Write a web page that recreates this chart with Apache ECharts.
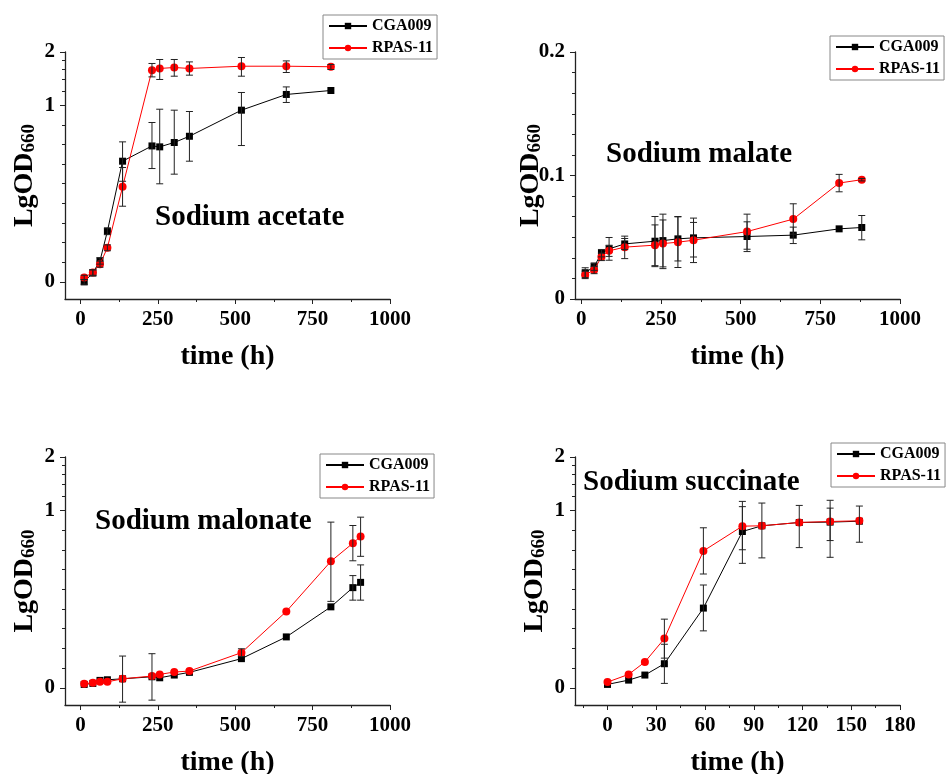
<!DOCTYPE html>
<html>
<head>
<meta charset="UTF-8">
<title>LgOD660 growth curves</title>
<script src="https://cdn.jsdelivr.net/npm/echarts@6/dist/echarts.min.js"></script>
<style>
  body { margin: 0; background: #fff; }
  #main { width: 947px; height: 774px; }
</style>
</head>
<body>
<div id="main"></div>
<script>
// ---- data ----
var acetateTime = [12, 40, 63, 87, 136, 231, 256, 303, 352, 520, 665, 809];
var acetateCGA = [0.100, 0.1125, 0.1315, 0.1936, 0.482, 0.588, 0.581, 0.615, 0.667, 0.937, 1.150, 1.211];
var acetateRPAS = [0.1059, 0.113, 0.126, 0.156, 0.345, 1.578, 1.614, 1.634, 1.614, 1.662, 1.662, 1.650];
var acetateCGALow = [0.097, 0.108, 0.126, 0.185, 0.371, 0.438, 0.359, 0.407, 0.482, 0.591, 1.036, null];
var acetateCGAHigh = [0.103, 0.117, 0.137, 0.202, 0.620, 0.798, 0.949, 0.937, 0.921, 1.180, 1.269, null];
var acetateRPASLow = [0.103, 0.109, 0.121, 0.150, 0.268, 1.446, 1.398, 1.459, 1.479, 1.459, 1.531, 1.592];
var acetateRPASHigh = [0.109, 0.117, 0.131, 0.162, 0.444, 1.722, 1.814, 1.814, 1.758, 1.862, 1.781, 1.700];

var malateTime = [12, 40, 63, 87, 136, 231, 256, 303, 352, 520, 665, 809, 880];
var malateCGA = [0.0213, 0.0262, 0.0371, 0.0406, 0.0446, 0.0468, 0.0473, 0.0487, 0.0495, 0.0506, 0.0517, 0.0568, 0.0579];
var malateRPAS = [0.0195, 0.0235, 0.0341, 0.039, 0.042, 0.0436, 0.0449, 0.046, 0.0476, 0.0546, 0.0647, 0.0939, 0.0966];
var malateCGALow = [0.0173, 0.0232, 0.0341, 0.0314, 0.040, 0.0262, 0.0246, 0.0308, 0.0295, 0.0384, 0.0449, null, 0.0479];
var malateCGAHigh = [0.0253, 0.0292, 0.0401, 0.0498, 0.049, 0.0668, 0.0687, 0.0668, 0.0655, 0.0625, 0.0582, null, 0.0676];
var malateRPASLow = [0.0165, 0.0205, 0.0311, 0.0345, 0.0327, 0.027, 0.026, 0.0255, 0.034, 0.0403, 0.0525, 0.0868, 0.0956];
var malateRPASHigh = [0.0225, 0.0265, 0.0371, 0.0435, 0.0509, 0.060, 0.064, 0.0665, 0.062, 0.0687, 0.0771, 0.1009, 0.0976];

var malonateTime = [12, 40, 63, 87, 136, 231, 256, 303, 352, 520, 665, 809, 880, 905];
var malonateCGA = [0.1045, 0.1059, 0.1101, 0.111, 0.1124, 0.1154, 0.1139, 0.118, 0.1222, 0.146, 0.1936, 0.286, 0.367, 0.393];
var malonateRPAS = [0.1054, 0.1067, 0.1081, 0.1081, 0.1124, 0.1165, 0.119, 0.1227, 0.1243, 0.1578, 0.2693, 0.5164, 0.653, 0.713];
var malonateCGALow = [null, null, null, null, 0.083, 0.0852, null, null, null, null, null, null, 0.312, 0.312];
var malonateCGAHigh = [null, null, null, null, 0.151, 0.1557, null, null, null, null, null, null, 0.429, 0.493];
var malonateRPASLow = [null, null, null, null, null, null, null, null, null, 0.150, null, 0.307, 0.52, 0.551];
var malonateRPASHigh = [null, null, null, null, null, null, null, null, null, 0.166, null, 0.859, 0.822, 0.916];

var succinateTime = [0, 13, 23, 35, 59, 83, 95, 118, 137, 155];
var succinateCGA = [0.1045, 0.1105, 0.118, 0.1367, 0.2814, 0.7605, 0.819, 0.855, 0.859, 0.869];
var succinateRPAS = [0.1077, 0.119, 0.1398, 0.1894, 0.591, 0.815, 0.819, 0.855, 0.866, 0.874];
var succinateCGALow = [null, null, null, 0.1059, 0.2094, 0.503, 0.54, 0.617, 0.676, 0.6616];
var succinateCGAHigh = [null, null, null, 0.176, 0.3797, 1.124, 1.10, 1.067, 1.14, 1.058];
var succinateRPASLow = [null, null, null, 0.147, 0.438, 0.60, null, null, 0.544, null];
var succinateRPASHigh = [null, null, null, 0.2438, 0.798, 1.05, null, null, 1.03, null];

var panelTitles = ['Sodium acetate', 'Sodium malate', 'Sodium malonate', 'Sodium succinate'];
var seriesNames = ['CGA009', 'RPAS-11'];

// tick labels
var timeTicks = [0, 250, 500, 750, 1000];
var timeMinor = [125, 375, 625, 875];
var succTicks = [0, 30, 60, 90, 120, 150, 180];
var succMinor = [-15, 15, 45, 75, 105, 135, 165];
var logTicks = [0.1, 1, 2];
var logMinor = [0.1292, 0.1668, 0.2154, 0.2783, 0.3594, 0.4642, 0.5995, 0.7743, 1.2, 1.4, 1.6, 1.8];
var linTicks = [0, 0.1, 0.2];
var linMinor = [0.0167, 0.0333, 0.05, 0.0667, 0.0833, 0.1167, 0.1333, 0.15, 0.1667, 0.1833];

// ---- chart ----
var FONT = '"Times New Roman", "Liberation Serif", serif';
var AXIS_COLOR = '#222';

function pairs(xs, ys) {
    return xs.map(function (x, i) { return [x, ys[i]]; });
}
function bars(xs, lo, hi) {
    var out = [];
    for (var i = 0; i < xs.length; i++) {
        if (lo[i] != null && hi[i] != null) out.push([xs[i], lo[i], hi[i]]);
    }
    return out;
}

function renderBar(params, api) {
    var x = api.value(0);
    var lo = api.coord([x, api.value(1)]);
    var hi = api.coord([x, api.value(2)]);
    var w = 3.5;
    var st = { stroke: '#222', lineWidth: 1 };
    return {
        type: 'group',
        children: [
            { type: 'line', shape: { x1: lo[0], y1: lo[1], x2: hi[0], y2: hi[1] }, style: st },
            { type: 'line', shape: { x1: lo[0] - w, y1: lo[1], x2: lo[0] + w, y2: lo[1] }, style: st },
            { type: 'line', shape: { x1: hi[0] - w, y1: hi[1], x2: hi[0] + w, y2: hi[1] }, style: st }
        ]
    };
}

var labelStyle = { fontSize: 21, fontWeight: 'bold', fontFamily: FONT, color: '#000' };

function xPair(grid, min, max, ticks, minor) {
    return [{
        gridIndex: grid, type: 'value', position: 'bottom', min: min, max: max,
        axisLine: { show: true, onZero: false, lineStyle: { color: AXIS_COLOR, width: 1.3 } },
        axisTick: { show: true, length: 5, customValues: ticks, lineStyle: { color: AXIS_COLOR } },
        axisLabel: Object.assign({ customValues: ticks, margin: 10, formatter: function (v) { return String(v); } }, labelStyle),
        splitLine: { show: false },
        name: 'time (h)', nameLocation: 'middle', nameGap: 44,
        nameTextStyle: { fontSize: 28, fontWeight: 'bold', fontFamily: FONT, color: '#000' }
    }, {
        gridIndex: grid, type: 'value', position: 'bottom', min: min, max: max,
        axisLine: { show: false, onZero: false },
        axisTick: { show: true, length: 3, customValues: minor, lineStyle: { color: AXIS_COLOR } },
        axisLabel: { show: false },
        splitLine: { show: false }
    }];
}

function yPair(grid, type, min, max, ticks, minor, fmt, gap) {
    return [{
        gridIndex: grid, type: type, position: 'left', min: min, max: max,
        axisLine: { show: true, onZero: false, lineStyle: { color: AXIS_COLOR, width: 1.3 } },
        axisTick: { show: true, length: 5, customValues: ticks, lineStyle: { color: AXIS_COLOR } },
        axisLabel: Object.assign({ customValues: ticks, margin: 10, formatter: fmt }, labelStyle),
        splitLine: { show: false },
        name: '{a|LgOD}{b|660}', nameLocation: 'middle', nameGap: gap, nameMoveOverlap: false,
        nameTextStyle: {
            color: '#000',
            rich: {
                a: { fontSize: 28, fontWeight: 'bold', fontFamily: FONT, color: '#000' },
                b: { fontSize: 19, fontWeight: 'bold', fontFamily: FONT, color: '#000', padding: [10, 0, 0, 0] }
            }
        }
    }, {
        gridIndex: grid, type: type, position: 'left', min: min, max: max,
        axisLine: { show: false, onZero: false },
        axisTick: { show: true, length: 3, customValues: minor, lineStyle: { color: AXIS_COLOR } },
        axisLabel: { show: false },
        splitLine: { show: false }
    }];
}

function logFmt(v) { return v < 0.5 ? '0' : String(Math.round(v)); }
function linFmt(v) { return v === 0 ? '0' : v.toFixed(1); }

var panels = [
    { time: acetateTime, cga: acetateCGA, rpas: acetateRPAS, cl: acetateCGALow, ch: acetateCGAHigh, rl: acetateRPASLow, rh: acetateRPASHigh },
    { time: malateTime, cga: malateCGA, rpas: malateRPAS, cl: malateCGALow, ch: malateCGAHigh, rl: malateRPASLow, rh: malateRPASHigh },
    { time: malonateTime, cga: malonateCGA, rpas: malonateRPAS, cl: malonateCGALow, ch: malonateCGAHigh, rl: malonateRPASLow, rh: malonateRPASHigh },
    { time: succinateTime, cga: succinateCGA, rpas: succinateRPAS, cl: succinateCGALow, ch: succinateCGAHigh, rl: succinateRPASLow, rh: succinateRPASHigh }
];

var xAxes = [].concat(
    xPair(0, -50, 1000, timeTicks, timeMinor),
    xPair(1, -20, 1000, timeTicks, timeMinor),
    xPair(2, -50, 1000, timeTicks, timeMinor),
    xPair(3, -20, 180, succTicks, succMinor)
);
var yAxes = [].concat(
    yPair(0, 'log', 0.08, 2, logTicks, logMinor, logFmt, 26),
    yPair(1, 'value', 0, 0.2, linTicks, linMinor, linFmt, 30),
    yPair(2, 'log', 0.08, 2, logTicks, logMinor, logFmt, 26),
    yPair(3, 'log', 0.08, 2, logTicks, logMinor, logFmt, 26)
);

var series = [];
panels.forEach(function (p, i) {
    series.push({
        name: seriesNames[0], type: 'line', xAxisIndex: 2 * i, yAxisIndex: 2 * i,
        data: pairs(p.time, p.cga), symbol: 'rect', symbolSize: 7,
        lineStyle: { color: '#000', width: 1 }, itemStyle: { color: '#000' }, z: 3
    });
    series.push({
        name: seriesNames[1], type: 'line', xAxisIndex: 2 * i, yAxisIndex: 2 * i,
        data: pairs(p.time, p.rpas), symbol: 'circle', symbolSize: 8,
        lineStyle: { color: '#ff0000', width: 1 }, itemStyle: { color: '#ff0000' }, z: 4
    });
    series.push({
        type: 'custom', xAxisIndex: 2 * i, yAxisIndex: 2 * i, renderItem: renderBar,
        encode: { x: 0, y: [1, 2] }, data: bars(p.time, p.cl, p.ch), z: 5, silent: true
    });
    series.push({
        type: 'custom', xAxisIndex: 2 * i, yAxisIndex: 2 * i, renderItem: renderBar,
        encode: { x: 0, y: [1, 2] }, data: bars(p.time, p.rl, p.rh), z: 5, silent: true
    });
});

var titlePos = [[155, 203], [606, 140], [95, 507], [583, 468]];
var legendPos = [[323, 15], [830, 36], [320, 454], [831, 443]];

var option = {
    animation: false,
    backgroundColor: '#fff',
    grid: [
        { left: 65, top: 52, width: 325, height: 247, outerBoundsMode: 'none' },
        { left: 575, top: 52, width: 325, height: 247, outerBoundsMode: 'none' },
        { left: 65, top: 457, width: 325, height: 248, outerBoundsMode: 'none' },
        { left: 575, top: 457, width: 325, height: 248, outerBoundsMode: 'none' }
    ],
    title: panelTitles.map(function (t, i) {
        return {
            text: t, left: titlePos[i][0], top: titlePos[i][1], padding: 0,
            textStyle: { fontSize: 29, fontWeight: 'bold', fontFamily: FONT, color: '#000' }
        };
    }),
    legend: legendPos.map(function (pos) {
        return {
            data: seriesNames, orient: 'vertical', left: pos[0], top: pos[1],
            itemWidth: 38, itemHeight: 8, itemGap: 6, padding: [3, 4, 3, 5],
            borderColor: '#888', borderWidth: 1, borderRadius: 0,
            selectedMode: false,
            textStyle: { fontSize: 16, fontWeight: 'bold', fontFamily: FONT, color: '#000', padding: [0, 0, 0, 0] }
        };
    }),
    xAxis: xAxes,
    yAxis: yAxes,
    series: series
};

var chart = echarts.init(document.getElementById('main'), null, { renderer: 'canvas' });
chart.setOption(option);
</script>
</body>
</html>
